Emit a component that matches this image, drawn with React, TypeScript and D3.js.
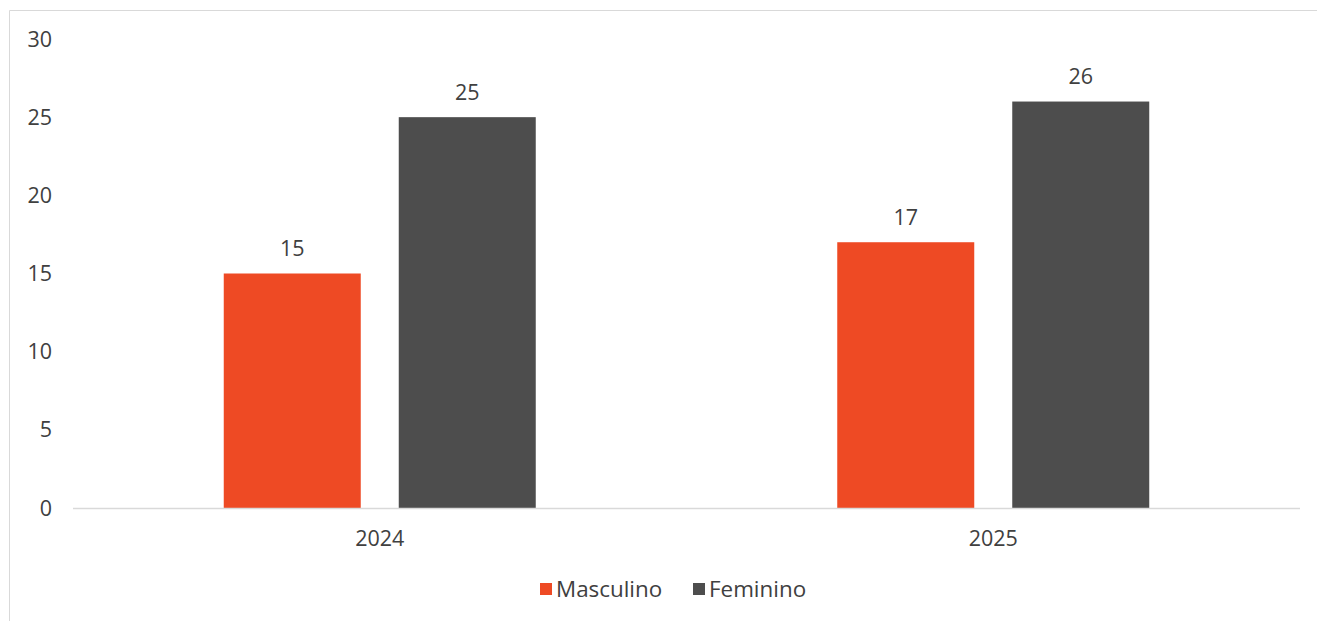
import React, { useEffect, useRef } from "react";
import * as d3 from "d3";

const categories = ["2024", "2025"];
const seriesNames = ["Masculino", "Feminino"];
const masculino = [15, 17];
const feminino = [25, 26];
const yTicks = [0, 5, 10, 15, 20, 25, 30];
const colors = ["#EE4A24", "#4D4D4D"];

export default function App() {
  const ref = useRef<SVGSVGElement | null>(null);
  useEffect(() => {
    const svg = d3.select(ref.current);
    svg.selectAll("*").remove();
    const W = 1317, H = 621;
    const font = "'Open Sans', 'DejaVu Sans', sans-serif";
    const fs = 21.5;
    const legendFs = 22.4;
    const textColor = "#404040";

    // container border (left & top visible)
    svg.append("path")
      .attr("d", `M9.5,${H} L9.5,10.5 L${W},10.5`)
      .attr("fill", "none").attr("stroke", "#d9d9d9").attr("stroke-width", 1);

    const left = 73, right = 1300, top = 39, bottom = 508;
    const x = d3.scaleBand().domain(categories).range([left, right]).paddingInner(0).paddingOuter(0);
    const y = d3.scaleLinear().domain([0, 30]).range([bottom, top]);
    const groupInner = 312 / x.bandwidth();
    const x1 = d3.scaleBand().domain(seriesNames)
      .range([x.bandwidth() * (1 - groupInner) / 2, x.bandwidth() * (1 + groupInner) / 2])
      .paddingInner(38 / 312 * 2 / (1 + 38 / 312));

    // y tick labels
    svg.append("g").selectAll("text").data(yTicks).join("text")
      .attr("x", 52).attr("y", d => y(d)).attr("dy", "0.35em")
      .attr("text-anchor", "end").attr("font-family", font).attr("font-size", fs)
      .attr("fill", textColor).text(d => String(d));

    const data = [masculino, feminino];
    categories.forEach((c, ci) => {
      seriesNames.forEach((s, si) => {
        const v = data[si][ci];
        const bx = (x(c) as number) + (x1(s) as number);
        svg.append("rect")
          .attr("x", bx).attr("y", y(v))
          .attr("width", x1.bandwidth()).attr("height", y(0) - y(v))
          .attr("fill", colors[si]);
        svg.append("text")
          .attr("x", bx + x1.bandwidth() / 2).attr("y", y(v) - 25).attr("dy", "0.35em")
          .attr("text-anchor", "middle").attr("font-family", font).attr("font-size", fs)
          .attr("fill", textColor).text(String(v));
      });
      svg.append("text")
        .attr("x", (x(c) as number) + x.bandwidth() / 2).attr("y", 538).attr("dy", "0.35em")
        .attr("text-anchor", "middle").attr("font-family", font).attr("font-size", fs)
        .attr("fill", textColor).text(c);
    });

    // baseline
    svg.append("line").attr("x1", left).attr("x2", right)
      .attr("y1", bottom + 0.5).attr("y2", bottom + 0.5)
      .attr("stroke", "#d9d9d9").attr("stroke-width", 1.5);

    // legend
    const legendX = [540, 693];
    seriesNames.forEach((s, i) => {
      svg.append("rect").attr("x", legendX[i]).attr("y", 583)
        .attr("width", 12).attr("height", 12).attr("fill", colors[i]);
      svg.append("text").attr("x", legendX[i] + 16).attr("y", 589).attr("dy", "0.35em")
        .attr("font-family", font).attr("font-size", legendFs).attr("fill", textColor).text(s);
    });
  }, []);
  return (
    <svg ref={ref} width={1317} height={621}
      style={{ position: "absolute", left: 0, top: 0, display: "block", background: "#fff" }} />
  );
}
